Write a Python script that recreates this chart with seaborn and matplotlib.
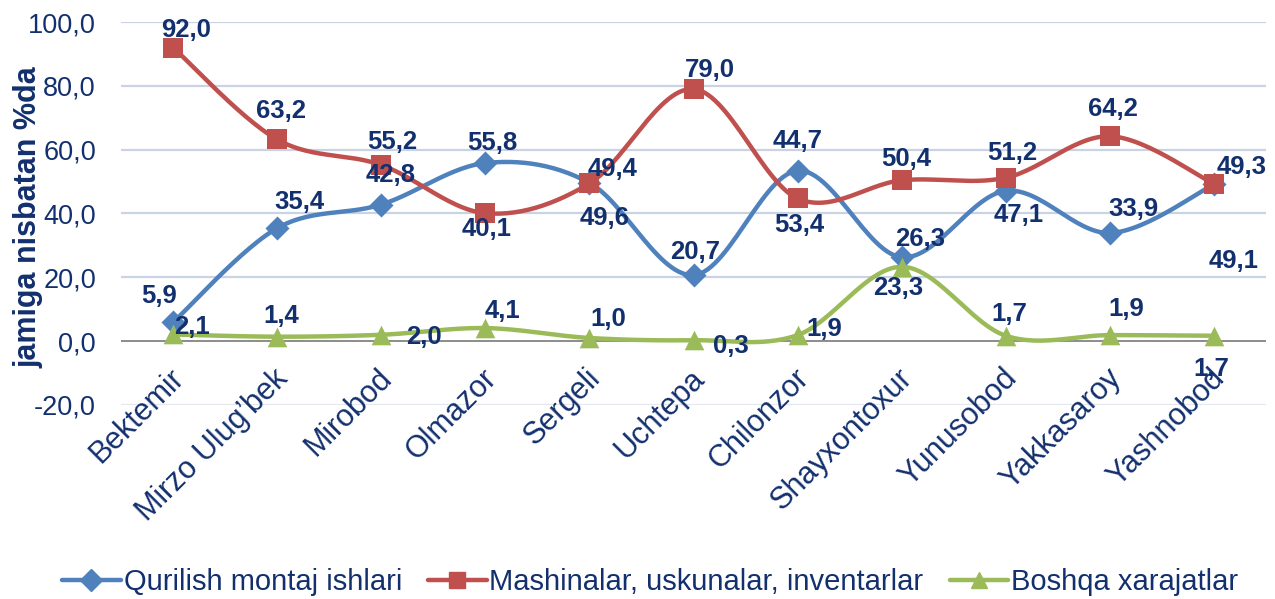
import numpy as np
import pandas as pd
import seaborn as sns
import matplotlib.pyplot as plt
from matplotlib.lines import Line2D

districts = ["Bektemir", "Mirzo Ulug\u2019bek", "Mirobod", "Olmazor", "Sergeli", "Uchtepa",
             "Chilonzor", "Shayxontoxur", "Yunusobod", "Yakkasaroy", "Yashnobod"]
series_names = ["Qurilish montaj ishlari", "Mashinalar, uskunalar, inventarlar", "Boshqa xarajatlar"]
qurilish = [5.9, 35.4, 42.8, 55.8, 49.6, 20.7, 53.4, 26.3, 47.1, 33.9, 49.1]
mashinalar = [92.0, 63.2, 55.2, 40.1, 49.4, 79.0, 44.7, 50.4, 51.2, 64.2, 49.3]
boshqa = [2.1, 1.4, 2.0, 4.1, 1.0, 0.3, 1.9, 23.3, 1.7, 1.9, 1.7]
y_ticks = [-20, 0, 20, 40, 60, 80, 100]
y_label = "jamiga nisbatan %da"

# label offsets in pixels (dx, dy) - hand placed like in the source chart
off_q = [(-14, 26), (22, 26), (9, 30), (7, 20), (15, -35), (2, 23), (2, -54), (18, 18), (13, -24), (24, 24), (20, -77)]
off_m = [(13, 18), (4, 28), (11, 23), (1, -16), (23, 14), (16, 19), (0, 57), (5, 21), (6, 25), (3, 27), (28, 17)]
off_b = [(19, 7), (4, 21), (43, -2), (17, 17), (19, 19), (37, -6), (27, 6), (-3, -21), (4, 22), (16, 26), (-3, -33)]

colors = ["#4F81BD", "#C0504D", "#9BBB59"]
markers = ["D", "s", "^"]
msizes = [150, 190, 200]
navy = "#13306E"

sns.set_style("white")
plt.rcParams['font.family'] = ["Liberation Sans", "DejaVu Sans"]


def smooth(y, n=30):
    # excel-like smoothed line (bezier through the points)
    x = np.arange(len(y), dtype=float)
    y = np.asarray(y, dtype=float)
    pts = np.column_stack([x, y])
    out = []
    for i in range(len(pts) - 1):
        p0 = pts[max(i - 1, 0)]
        p1 = pts[i]
        p2 = pts[i + 1]
        p3 = pts[min(i + 2, len(pts) - 1)]
        c1 = p1 + (p2 - p0) / 6
        c2 = p2 - (p3 - p1) / 6
        t = np.linspace(0, 1, n)[:, None]
        seg = (1 - t) ** 3 * p1 + 3 * (1 - t) ** 2 * t * c1 + 3 * (1 - t) * t ** 2 * c2 + t ** 3 * p2
        out.append(seg if i == 0 else seg[1:])
    return np.vstack(out)


fig = plt.figure(figsize=(12.75, 5.99), dpi=100)
ax = fig.add_axes([121 / 1275, 1 - 405 / 599, (1266 - 121) / 1275, (405 - 22) / 599])

all_vals = [qurilish, mashinalar, boshqa]
all_offs = [off_q, off_m, off_b]
for k, vals in enumerate(all_vals):
    curve = smooth(vals)
    sns.lineplot(x=curve[:, 0], y=curve[:, 1], sort=False, color=colors[k], linewidth=3.2, ax=ax, zorder=3)
    df = pd.DataFrame({"x": np.arange(len(vals)), "y": vals})
    sns.scatterplot(data=df, x="x", y="y", marker=markers[k], s=msizes[k], color=colors[k],
                    edgecolor=colors[k], linewidth=0, ax=ax, zorder=4)

for k, vals in enumerate(all_vals):
    for i, v in enumerate(vals):
        dx, dy = all_offs[k][i]
        ax.annotate(f"{v:.1f}".replace(".", ","), (i, v), xytext=(dx, dy), textcoords="offset pixels",
                    ha="center", va="center", fontsize=18.5, fontweight="bold", color=navy, zorder=6)

ax.set_xlim(-0.5, len(districts) - 0.5)
ax.set_ylim(-20, 100)
ax.set_yticks(y_ticks)
ax.set_yticklabels([f"{t:.1f}".replace(".", ",") for t in y_ticks], fontsize=19.5, color=navy)
ax.tick_params(axis="y", length=0, pad=18)
ax.set_xticks([])
for t in y_ticks[2:]:
    ax.axhline(t, color="#C9D3E3", linewidth=1.6, zorder=1)
ax.axhline(-20, color="#E4E6F0", linewidth=1.6, zorder=1)
ax.axhline(0, color="#8C8C8C", linewidth=1.4, zorder=2)
for s in ax.spines.values():
    s.set_visible(False)

for i, name in enumerate(districts):
    ax.annotate(name, (i, 0), xytext=(-4, -22), textcoords="offset pixels", rotation=45,
                rotation_mode="anchor", ha="right", va="top", fontsize=22, color=navy)

ax.set_ylabel(y_label, fontsize=22, fontweight="bold", color=navy)
ax.yaxis.set_label_coords(-0.068, 0.49)
ax.set_xlabel("")

handles = [Line2D([0], [0], color=colors[k], linewidth=3.2, marker=markers[k], markersize=11)
           for k in range(3)]
fig.legend(handles, series_names, loc="center", bbox_to_anchor=(0.51, 0.028), ncol=3, frameon=False,
           fontsize=21, handlelength=2.0, handletextpad=0.1, columnspacing=0.9, labelcolor=navy)

plt.savefig("out.png", dpi=100)
